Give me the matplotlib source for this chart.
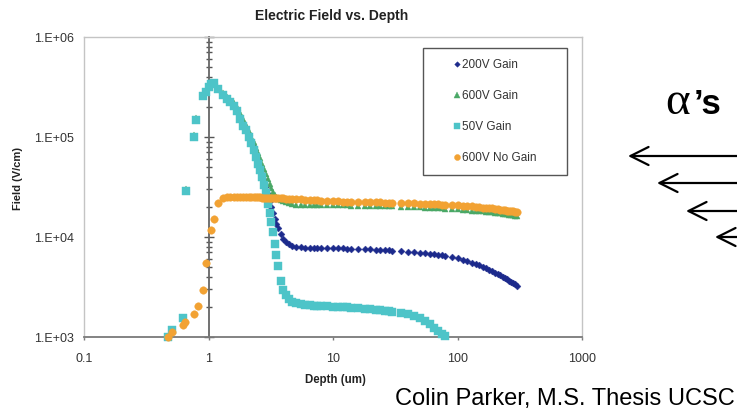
import numpy as np
import matplotlib
matplotlib.use("Agg")
import matplotlib.pyplot as plt
from matplotlib.ticker import LogLocator, NullLocator, NullFormatter

plt.rcParams['font.family'] = ['Liberation Sans', 'DejaVu Sans']

nan = np.nan

# ---------------- data (depth in um, field in V/cm) ----------------
depth = [0.47, 0.51, 0.62, 0.65, 0.665, 0.76, 0.80, 0.82, 0.90, 0.96,
         1.00, 1.04, 1.10, 1.20, 1.30, 1.40, 1.50, 1.60, 1.70, 1.80,
         1.90, 2.00, 2.10, 2.20, 2.30, 2.40, 2.50, 2.60, 2.70, 2.80,
         2.90, 3.00, 3.10, 3.20, 3.30, 3.40, 3.50, 3.60, 3.80, 4.00,
         4.20, 4.40, 4.70, 5.00, 5.50, 6.00, 6.50, 7.00, 7.50, 8.00,
         9, 10, 11, 12, 13, 14, 16, 18, 20, 22,
         24, 26, 28, 30, 35, 40, 45, 50, 55, 60,
         65, 70, 75, 80, 90, 100, 110, 120, 130, 140,
         150, 160, 170, 180, 190, 200, 210, 220, 230, 240,
         250, 260, 270, 280, 290, 300]

field_200V_gain = [nan, nan, nan, nan, nan, nan, nan, nan, nan, nan,
                   316000, 339000, 347000, 302000, 269000, 245000, 229000, 209000, 186000, 158000,
                   135000, 120000, 105000, 91000, 79000, 68000, 58000, 50000, 43000, 37000,
                   32000, 27000, 23000, 20000, 17400, 15100, 13500, 12300, 10700, 9500,
                   8900, 8500, 8100, 7950, 7900, 7850, 7800, 7800, 7800, 7800,
                   7750, 7750, 7700, 7700, 7650, 7650, 7600, 7550, 7500, 7450,
                   7400, 7400, 7350, 7300, 7200, 7100, 7000, 6950, 6850, 6800,
                   6700, 6650, 6550, 6450, 6300, 6100, 5900, 5700, 5500, 5350,
                   5200, 5000, 4850, 4700, 4550, 4400, 4250, 4150, 4000, 3900,
                   3800, 3650, 3550, 3450, 3350, 3250]

field_600V_gain = [nan, nan, nan, nan, 30000, 105000, 155000, nan, 270000, 290000,
                   320000, 340000, 348000, 309000, 275000, 251000, 234000, 219000, 200000, 174000,
                   151000, 132000, 115000, 100000, 89000, 78000, 69000, 62000, 54000, 48000,
                   43000, 38000, 34000, 31000, 28500, 26500, 25000, 24000, 23200, 22800,
                   22500, 21700, 21300, 21100, 21000, 21000, 20900, 20900, 20900, 20800,
                   20800, 20800, 20700, 20700, 20700, 20600, 20600, 20500, 20500, 20400,
                   20400, 20300, 20300, 20200, 20100, 20000, 19900, 19800, 19700, 19600,
                   19500, 19400, 19300, 19200, 19000, 18900, 18700, 18600, 18400, 18300,
                   18200, 18000, 17900, 17800, 17600, 17500, 17400, 17200, 17100, 17000,
                   16900, 16700, 16600, 16500, 16300, 16200]

field_50V_gain = [1000, 1180, 1550, nan, 29000, 100000, 148000, nan, 260000, 285000,
                  316000, 339000, 347000, 302000, 263000, 240000, 224000, 204000, 182000, 151000,
                  129000, 117000, 100000, 87000, 74000, 63000, 54000, 47000, 40000, 33000,
                  27500, 21400, 17400, 14100, 11200, 8500, 6600, 5100, 3600, 2950,
                  2630, 2400, 2240, 2190, 2140, 2090, 2070, 2040, 2040, 2020,
                  2020, 2010, 2000, 1990, 1980, 1970, 1950, 1920, 1900, 1880,
                  1860, 1840, 1810, 1790, 1740, 1680, 1620, 1550, 1450, 1340,
                  1240, 1150, 1080, 1020, nan, nan, nan, nan, nan, nan,
                  nan, nan, nan, nan, nan, nan, nan, nan, nan, nan,
                  nan, nan, nan, nan, nan, nan]

field_600V_nogain = [1000, 1120, 1320, 1410, nan, 1700, nan, 2050, 2950, 5500,
                     nan, 11700, 15000, 22000, 24500, 25200, 25300, 25300, 25200, 25200,
                     25100, 25100, 25000, 25000, 25000, 24900, 24900, 24900, 24800, 24800,
                     24700, 24700, 24600, 24600, 24500, 24500, 24400, 24400, 24300, 24300,
                     24200, 24100, 24000, 23900, 23800, 23700, 23600, 23400, 23300, 23100,
                     22900, 22800, 22700, 22600, 22500, 22500, 22400, 22300, 22300, 22200,
                     22200, 22100, 22100, 22000, 21900, 21800, 21700, 21600, 21500, 21400,
                     21300, 21200, 21100, 21000, 20800, 20700, 20500, 20300, 20200, 20000,
                     19900, 19700, 19600, 19400, 19300, 19100, 19000, 18800, 18700, 18500,
                     18400, 18300, 18100, 18000, 17900, 17700]

series_labels = ["200V Gain", "600V Gain", "50V Gain", "600V No Gain"]
xtick_vals = [0.1, 1, 10, 100, 1000]
xtick_labels = ["0.1", "1", "10", "100", "1000"]
ytick_vals = [1e3, 1e4, 1e5, 1e6]
ytick_labels = ["1.E+03", "1.E+04", "1.E+05", "1.E+06"]

# ---------------- figure ----------------
W, H = 737, 417
fig = plt.figure(figsize=(W / 100, H / 100), dpi=100)
fig.patch.set_facecolor('white')

def fx(px):
    return px / W

def fy(py):
    return 1 - py / H

ax = fig.add_axes([fx(84), fy(337), fx(582) - fx(84), fy(37) - fy(337)])
ax.set_xscale('log')
ax.set_yscale('log')
ax.set_xlim(0.1, 1000)
ax.set_ylim(1e3, 1e6)

styles = [
    dict(marker='D', ms=3.5, color='#1c2a8c'),
    dict(marker='^', ms=5.0, color='#4aa866'),
    dict(marker='s', ms=5.2, color='#4dc4c8'),
    dict(marker='o', ms=5.4, color='#f2a233'),
]
all_series = [field_200V_gain, field_600V_gain, field_50V_gain, field_600V_nogain]
for vals, lab, st in zip(all_series, series_labels, styles):
    ax.plot(depth, vals, linestyle='none', marker=st['marker'], ms=st['ms'],
            color=st['color'], mec=st['color'], mew=0.3, label=lab, clip_on=False, zorder=3)

# spines
for s in ['top', 'right', 'left']:
    ax.spines[s].set_color('#c4c4c4')
    ax.spines[s].set_linewidth(1.0)
ax.spines['bottom'].set_color('#7a7a7a')
ax.spines['bottom'].set_linewidth(1.3)

# ticks
ax.set_xticks(xtick_vals, xtick_labels)
ax.xaxis.set_minor_locator(NullLocator())
ax.tick_params(axis='x', direction='out', length=2.5, width=1, color='#7a7a7a',
               pad=9, labelsize=9, labelcolor='#333333')
ax.set_yticks(ytick_vals, ytick_labels)
ax.yaxis.set_minor_locator(NullLocator())
ax.tick_params(axis='y', length=0, pad=7, labelsize=9, labelcolor='#333333')

# vertical axis crossing at depth = 1
sec = ax.secondary_yaxis(0.25)
sec.yaxis.set_major_locator(LogLocator(base=10))
sec.yaxis.set_minor_locator(LogLocator(base=10, subs=range(2, 10)))
sec.yaxis.set_minor_formatter(NullFormatter())
sec.tick_params(which='major', direction='inout', length=7, width=1, color='#555555',
                labelleft=False, labelright=False)
sec.tick_params(which='minor', direction='inout', length=5, width=1, color='#555555',
                labelleft=False, labelright=False)
for s in sec.spines.values():
    s.set_color('#666666')
    s.set_linewidth(1.3)

# legend
leg = ax.legend(loc='upper left', bbox_to_anchor=(0.681, 0.523, 0.289, 0.44),
                mode='expand', borderaxespad=0, fontsize=8.5, frameon=True,
                fancybox=False, edgecolor='#555555', framealpha=1,
                borderpad=0.9, labelspacing=1.63, handlelength=4.0,
                handletextpad=-1.6, numpoints=1, markerscale=0.8)
leg.get_frame().set_linewidth(1.0)
for t in leg.get_texts():
    t.set_color('#333333')

# titles and labels
fig.text(fx(332), fy(16), "Electric Field vs. Depth", ha='center', va='center',
         fontsize=10, fontweight='bold', color='#222222')
fig.text(fx(335), fy(380), "Depth (um)", ha='center', va='center',
         fontsize=8.3, fontweight='bold', color='#222222')
fig.text(fx(18), fy(179), "Field (V/cm)", ha='center', va='center', rotation=90,
         fontsize=8, fontweight='bold', color='#222222')

# right-side annotations
fig.text(fx(665), fy(114), "\u03b1", ha='left', va='baseline',
         fontsize=34, family=['Liberation Serif', 'DejaVu Serif'], color='black')
fig.text(fx(694), fy(114), "\u2019s", ha='left', va='baseline',
         fontsize=25, fontweight='bold', color='black')

arrow_tips = [(628, 156), (657, 183), (686, 211), (715, 237)]
for (px, py) in arrow_tips:
    fig.add_artist(matplotlib.patches.FancyArrowPatch(
        posA=(fx(745), fy(py)), posB=(fx(px), fy(py)),
        transform=fig.transFigure,
        arrowstyle='->,head_length=1.3,head_width=0.65', mutation_scale=10,
        lw=1.6, color='black', shrinkA=0, shrinkB=0))

fig.text(fx(395), fy(405), "Colin Parker, M.S. Thesis UCSC", ha='left', va='baseline',
         fontsize=17, color='black')

fig.savefig("out.png", dpi=100)
